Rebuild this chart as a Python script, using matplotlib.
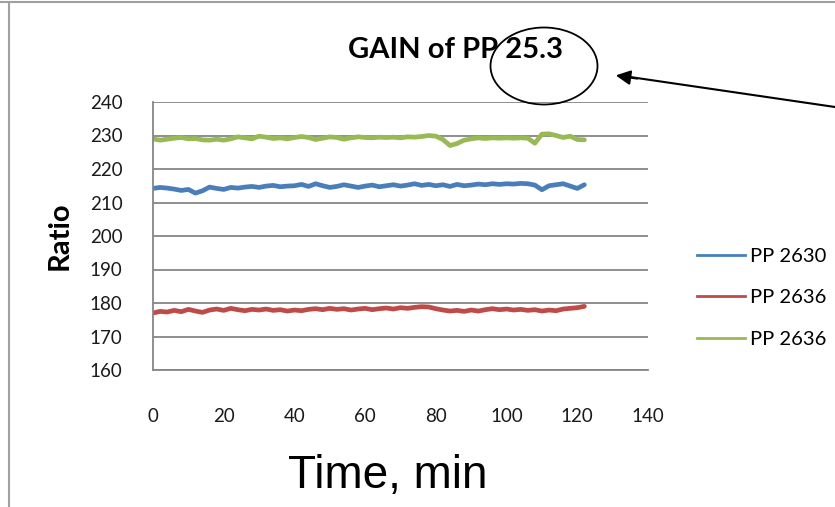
import matplotlib.pyplot as plt
from matplotlib.lines import Line2D
from matplotlib.patches import Ellipse

# minutes, sampled every 2 min
time_min = list(range(0, 124, 2))

pp2630 = [214.2, 214.5, 214.3, 214.0, 213.6, 213.9, 212.8, 213.5, 214.6, 214.2,
          213.9, 214.5, 214.3, 214.6, 214.8, 214.5, 214.9, 215.1, 214.7, 214.9,
          215.0, 215.4, 214.8, 215.6, 215.0, 214.5, 214.8, 215.3, 214.9, 214.5,
          214.9, 215.2, 214.7, 215.0, 215.3, 214.9, 215.2, 215.6, 215.1, 215.4,
          215.0, 215.3, 214.8, 215.4, 215.0, 215.2, 215.5, 215.3, 215.6, 215.4,
          215.6, 215.5, 215.7, 215.6, 215.2, 213.8, 215.0, 215.3, 215.6, 214.9,
          214.2, 215.3]

pp2636_red = [177.0, 177.5, 177.3, 177.8, 177.4, 178.1, 177.6, 177.2, 177.9, 178.2,
              177.8, 178.4, 178.0, 177.7, 178.1, 177.9, 178.2, 177.8, 178.0, 177.6,
              177.9, 177.7, 178.1, 178.3, 178.0, 178.4, 178.1, 178.3, 177.9, 178.2,
              178.4, 178.0, 178.3, 178.5, 178.2, 178.6, 178.4, 178.7, 178.9, 178.8,
              178.3, 177.9, 177.6, 177.8, 177.5, 177.9, 177.6, 178.0, 178.3, 178.0,
              178.2, 177.9, 178.1, 177.8, 178.0, 177.6, 177.9, 177.7, 178.2, 178.4,
              178.6, 179.0]

pp2636_green = [229.0, 228.6, 228.9, 229.2, 229.4, 229.0, 229.1, 228.7, 228.6, 228.9,
                228.6, 229.0, 229.6, 229.3, 229.0, 229.8, 229.5, 229.1, 229.3, 229.0,
                229.4, 229.7, 229.4, 228.8, 229.2, 229.6, 229.4, 228.9, 229.3, 229.6,
                229.4, 229.3, 229.5, 229.4, 229.5, 229.3, 229.6, 229.5, 229.7, 230.0,
                229.8, 228.8, 227.0, 227.6, 228.6, 229.0, 229.3, 229.1, 229.3, 229.2,
                229.3, 229.2, 229.3, 229.2, 227.7, 230.4, 230.5, 230.0, 229.4, 229.8,
                228.8, 228.7]

labels = ['PP 2630', 'PP 2636', 'PP 2636']
colors = ['#4a7ebb', '#be4b48', '#98b954']

W, H = 835, 507
fig = plt.figure(figsize=(W / 100, H / 100), dpi=100)
ax = fig.add_axes([153 / W, 1 - 370 / H, (648 - 153) / W, (370 - 102) / H])

for series, lab, c in zip([pp2630, pp2636_red, pp2636_green], labels, colors):
    ax.plot(time_min, series, color=c, lw=3.4, label=lab, solid_capstyle='round')

ax.set_xlim(0, 140)
ax.set_ylim(160, 240)
ax.set_xticks(range(0, 141, 20))
ax.set_yticks(range(160, 241, 10))
ax.yaxis.grid(True, color='#868686', lw=1.3)
ax.set_axisbelow(True)
for s in ['top', 'right']:
    ax.spines[s].set_visible(False)
for s in ['left', 'bottom']:
    ax.spines[s].set_color('#868686')
    ax.spines[s].set_linewidth(1.3)
ax.tick_params(axis='both', length=0, labelsize=13.5, labelcolor='#1a1a1a')
ax.tick_params(axis='x', pad=27)
ax.tick_params(axis='y', pad=22)
for t in ax.get_xticklabels() + ax.get_yticklabels():
    t.set_family('Lato')

ax.set_ylabel('Ratio', fontsize=21, fontweight='bold', family='Lato', labelpad=12)

fig.text(456 / W, 1 - 50 / H, 'GAIN of PP 25.3', ha='center', va='center',
         fontsize=21, fontweight='bold', family='Lato')
fig.text(388 / W, 1 - 476 / H, 'Time, min', ha='center', va='center',
         fontsize=33, family='Liberation Sans')

leg_handles = [Line2D([0], [0], color=c, lw=2) for c in colors]
fig.legend(leg_handles, labels, loc='upper left', bbox_to_anchor=(697 / W, 1 - 248 / H),
           frameon=False, prop={'family': 'Lato', 'size': 14.5}, borderpad=0,
           borderaxespad=0, handlelength=2.4, handletextpad=0.25, labelspacing=1.2)

# circle and arrow callout
fig.add_artist(Ellipse((544 / W, 1 - 66 / H), 107 / W, 77 / H, transform=fig.transFigure,
                       fill=False, ec='black', lw=1.3))
fig.add_artist(Line2D([835 / W, 630 / W], [1 - 107 / H, 1 - 77 / H],
                      transform=fig.transFigure, color='black', lw=1.5))
ax.annotate('', xy=(613 / W, 1 - 75 / H), xycoords='figure fraction',
            xytext=(640 / W, 1 - 79 / H), textcoords='figure fraction',
            arrowprops=dict(arrowstyle='-|>', color='black', lw=1.5, mutation_scale=22))

# screenshot frame
fig.add_artist(Line2D([0, 1], [1 - 2 / H, 1 - 2 / H], transform=fig.transFigure,
                      color='#a0a0a0', lw=1.5))
fig.add_artist(Line2D([9 / W, 9 / W], [0, 1 - 4 / H], transform=fig.transFigure,
                      color='#a0a0a0', lw=1.5))

fig.savefig('out.png', dpi=100)
